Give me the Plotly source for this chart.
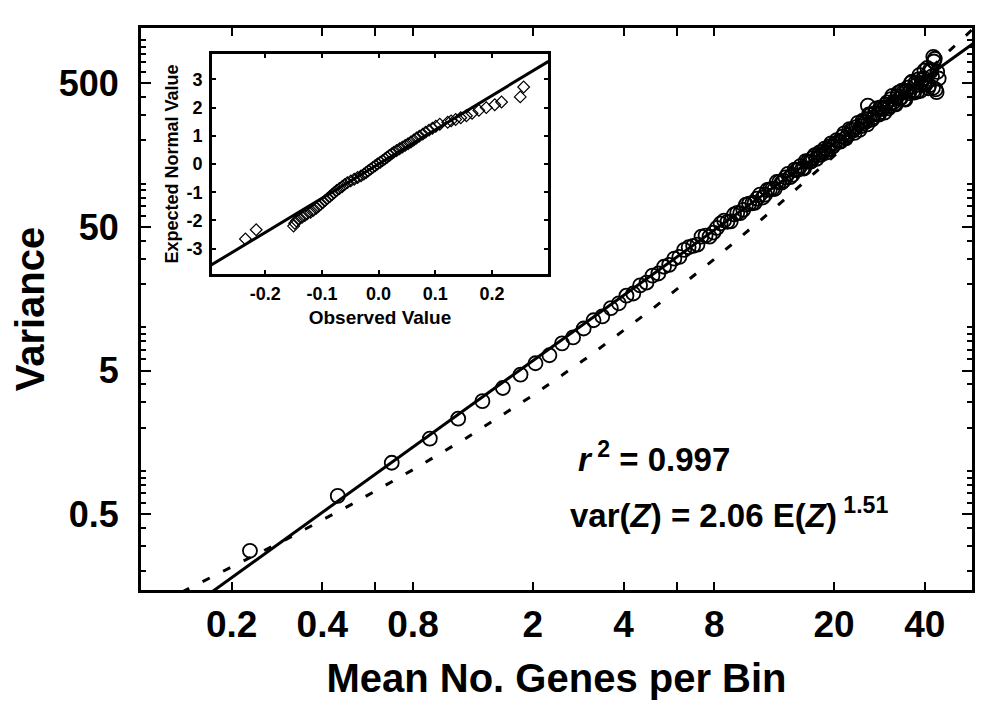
import plotly.graph_objects as go

# main panel: bin means and variances
mean_genes = [
    0.23, 0.45, 0.68, 0.91, 1.13, 1.36, 1.59, 1.82, 2.04, 2.27, 2.50, 2.72, 2.95, 3.18,
    3.40, 3.63, 3.86, 4.09, 4.31, 4.54, 4.77, 4.99, 5.22, 5.45, 5.67, 5.90, 6.13,
    6.58, 7.04, 7.49, 7.95, 8.40, 8.85, 9.31, 9.76, 10.2, 10.7, 11.1, 11.6, 12.0, 12.5,
    12.9, 13.4, 13.8, 14.3, 14.8, 15.2, 15.7, 16.1, 16.6, 17.0, 17.5, 17.9, 18.4, 18.8,
    19.3, 19.8, 20.4, 21.0, 21.6, 22.2, 22.8, 23.4, 24.0, 24.6, 25.2, 25.8, 26.4, 27.0,
    27.6, 28.2, 28.8, 29.4, 30.0, 30.6, 31.2, 31.8, 32.4, 33.0, 33.6, 34.2, 34.8, 35.4,
    36.0, 36.6, 37.2, 37.8, 38.4, 39.0, 39.6, 40.2, 40.8, 41.4, 42.0, 42.6, 43.2, 43.8,
    6.36, 6.81, 7.26, 7.72, 8.17, 8.63, 9.08, 9.54, 9.99, 10.45, 10.9, 11.35, 11.8,
    12.25, 12.7, 13.15, 13.6, 14.05, 14.55, 15.0, 15.45, 15.9, 16.35, 16.8, 17.25,
    17.7, 18.15, 18.6, 19.05, 19.55, 20.1,
    20.7, 21.3, 21.9, 22.5, 23.1, 23.7, 24.3, 24.9, 25.5, 26.1, 26.7, 27.3, 27.9,
    28.5, 29.1, 29.7, 30.3, 30.9, 31.5, 32.1, 32.7, 33.3, 33.9, 34.5, 35.1, 35.7,
    36.3, 36.9, 37.5, 38.1, 38.7, 39.3, 39.9, 40.5, 41.1, 41.7, 42.3, 42.9, 43.5,
    25.9, 42.7, 44.5, 44.0,
]
variance = [
    0.278, 0.67, 1.14, 1.68, 2.31, 3.06, 3.78, 4.68, 5.62, 6.39, 7.73, 8.50, 9.81, 11.2,
    11.9, 13.6, 14.7, 16.6, 17.2, 19.6, 20.5, 22.9, 23.7, 26.4, 27.2, 30.1, 30.9,
    36.1, 37.7, 43.5, 45.7, 52.8, 54.3, 61.0, 62.3, 71.4, 73.1, 78.8, 80.1, 90.4, 92.4,
    102.8, 101.6, 110.6, 111.0, 125.3, 125.4, 127.8, 143.7, 141.9, 151.5, 149.0, 165.4, 167.4, 164.3,
    181.7, 181.4, 201, 196, 224, 218, 236, 226, 265, 252, 272, 259, 300, 290,
    334, 303, 336, 312, 368, 346, 409, 359, 405, 392, 445, 388, 443, 427,
    503, 440, 504, 437, 570, 500, 543, 490, 641, 484, 611, 464, 741, 434,
    34.6, 36.9, 42.8, 42.8, 49.2, 55.4, 54.7, 62.6, 65.8, 72.6, 73.6, 83.9, 83.9,
    91.4, 91.8, 102.8, 104.9, 117.0, 115.1, 124.1, 132.4, 127.6, 142.8, 143.0, 157.9,
    157.9, 159.1, 175.2, 172.9, 190.7, 189.4,
    196, 213, 207, 240, 234, 248, 237, 275, 269, 304, 279, 310, 304,
    340, 331, 355, 334, 388, 369, 357, 431, 394, 430, 385, 466, 442,
    514, 431, 486, 533, 443, 527, 614, 513, 462, 622, 559, 709, 454,
    350, 764, 540, 600,
]

# fitted power law var = 2.06 E^1.51 (end points)
fit_x = [0.15, 60]
fit_y = [0.117, 997]

# dashed reference curve
dash_x = [0.1, 0.15, 0.2, 0.3, 0.5, 0.8, 1.2, 2, 3, 5, 8, 12, 20, 30, 45, 60]
dash_y = [0.103, 0.158, 0.214, 0.33, 0.585, 1.02, 1.69, 3.36, 6.06, 13.5, 29.8, 61, 156, 336, 734, 1284]

x_ticks = [0.2, 0.4, 0.8, 2, 4, 8, 20, 40]
x_ticktext = ["0.2", "0.4", "0.8", "2", "4", "8", "20", "40"]
x_minor = [0.6, 6]
y_ticks = [0.5, 5, 50, 500]
y_ticktext = ["0.5", "5", "50", "500"]
y_minor = [0.2, 0.3, 0.4, 0.6, 0.7, 0.8, 0.9, 1, 2, 3, 4, 6, 7, 8, 9, 10,
           20, 30, 40, 60, 70, 80, 90, 100, 200, 300, 400, 600, 700, 800, 900, 1000]

# inset: normal probability plot of residuals
obs_value = [
    -0.235, -0.216, -0.150, -0.148, -0.145, -0.140, -0.135, -0.130, -0.126, -0.120,
    -0.115, -0.110, -0.106, -0.102, -0.098, -0.094, -0.090, -0.086, -0.082, -0.078,
    -0.074, -0.069, -0.064, -0.060, -0.055, -0.049, -0.043, -0.037, -0.031, -0.026,
    -0.022, -0.018, -0.014, -0.010, -0.006, -0.002, 0.003, 0.007, 0.011, 0.015,
    0.019, 0.023, 0.027, 0.032, 0.037, 0.042, 0.047, 0.052, 0.057, 0.062,
    0.067, 0.072, 0.078, 0.083, 0.089, 0.095, 0.101, 0.108, 0.122, 0.128,
    0.136, 0.145, 0.155, 0.165, 0.177, 0.190, 0.205, 0.217, 0.250, 0.256,
]
exp_normal = [
    -2.66, -2.33, -2.20, -2.10, -2.02, -1.95, -1.89, -1.83, -1.77, -1.71,
    -1.64, -1.57, -1.50, -1.43, -1.36, -1.29, -1.22, -1.15, -1.08, -1.01,
    -0.94, -0.87, -0.80, -0.73, -0.66, -0.60, -0.54, -0.48, -0.42, -0.36,
    -0.30, -0.24, -0.18, -0.12, -0.06, 0.00, 0.06, 0.12, 0.18, 0.24,
    0.30, 0.36, 0.42, 0.48, 0.54, 0.60, 0.66, 0.72, 0.78, 0.85,
    0.92, 0.99, 1.06, 1.13, 1.20, 1.27, 1.34, 1.41, 1.48, 1.53,
    1.58, 1.64, 1.71, 1.80, 1.90, 2.00, 2.10, 2.20, 2.38, 2.73,
]
qq_line_x = [-0.3, 0.3]
qq_line_y = [-3.64, 3.64]
inset_xticks = [-0.2, -0.1, 0.0, 0.1, 0.2]
inset_xtext = ["-0.2", "-0.1", "0.0", "0.1", "0.2"]
inset_yticks = [-3, -2, -1, 0, 1, 2, 3]
inset_ytext = ["-3", "-2", "-1", "0", "1", "2", "3"]

FONT = "Arial, Liberation Sans, Helvetica, sans-serif"

fig = go.Figure()
fig.add_trace(go.Scatter(x=dash_x, y=dash_y, mode="lines",
                         line=dict(color="black", width=3, dash="8px,15px")))
fig.add_trace(go.Scatter(x=fit_x, y=fit_y, mode="lines",
                         line=dict(color="black", width=3)))
fig.add_trace(go.Scatter(x=mean_genes, y=variance, mode="markers",
                         marker=dict(symbol="circle-open", size=14, color="black",
                                     line=dict(width=1.8, color="black"))))

fig.add_trace(go.Scatter(x=qq_line_x, y=qq_line_y, mode="lines", xaxis="x2", yaxis="y2",
                         line=dict(color="black", width=3)))
fig.add_trace(go.Scatter(x=obs_value, y=exp_normal, mode="markers", xaxis="x2", yaxis="y2",
                         marker=dict(symbol="diamond-open", size=9, color="black",
                                     line=dict(width=1.2, color="black"))))

# page body has an 8px margin, so the figure is a bit smaller and margins are shifted
fig.update_layout(
    width=967, height=695,
    margin=dict(l=133, r=3, t=20, b=113),
    paper_bgcolor="white", plot_bgcolor="white",
    showlegend=False,
    font=dict(family=FONT, color="black", weight="bold"),
    xaxis=dict(
        type="log", range=[-1.0, 1.759], automargin=False,
        tickvals=x_ticks, ticktext=x_ticktext,
        tickfont=dict(size=37, family=FONT, weight="bold"),
        ticks="inside", ticklen=8, tickwidth=2, tickcolor="black",
        minor=dict(tickvals=x_minor, ticks="inside", ticklen=8, tickwidth=2, tickcolor="black"),
        showline=True, linewidth=3, linecolor="black", mirror="ticks",
        showgrid=False, zeroline=False, ticklabelstandoff=0,
        title=dict(text="Mean No. Genes per Bin", standoff=20,
                   font=dict(size=40, family=FONT, weight="bold")),
    ),
    yaxis=dict(
        type="log", range=[-0.829, 3.084], automargin=False,
        tickvals=y_ticks, ticktext=y_ticktext,
        tickfont=dict(size=36, family=FONT, weight="bold"),
        ticks="inside", ticklen=10, tickwidth=2, tickcolor="black",
        minor=dict(tickvals=y_minor, ticks="inside", ticklen=5, tickwidth=2, tickcolor="black"),
        showline=True, linewidth=3, linecolor="black", mirror="ticks",
        showgrid=False, zeroline=False, ticklabelstandoff=12,
        title=dict(text="Variance", standoff=14,
                   font=dict(size=40, family=FONT, weight="bold")),
    ),
    xaxis2=dict(
        domain=[0.0854, 0.4898], anchor="y2", range=[-0.294, 0.299], automargin=False,
        tickvals=inset_xticks, ticktext=inset_xtext,
        tickfont=dict(size=18, family=FONT, weight="bold"),
        ticks="inside", ticklen=4, tickwidth=1.5, tickcolor="black",
        showline=True, linewidth=2.5, linecolor="black", mirror="ticks",
        showgrid=False, zeroline=False, ticklabelstandoff=2,
        title=dict(text="Observed Value", standoff=8,
                   font=dict(size=19, family=FONT, weight="bold")),
    ),
    yaxis2=dict(
        domain=[0.5623, 0.9537], anchor="x2", range=[-3.9, 3.9], automargin=False,
        tickvals=inset_yticks, ticktext=inset_ytext,
        tickfont=dict(size=18, family=FONT, weight="bold"),
        ticks="inside", ticklen=4, tickwidth=1.5, tickcolor="black",
        showline=True, linewidth=2.5, linecolor="black", mirror="ticks",
        showgrid=False, zeroline=False, ticklabelstandoff=3,
        title=dict(text="Expected Normal Value", standoff=4,
                   font=dict(size=18, family=FONT, weight="bold")),
    ),
)

fig.add_annotation(xref="paper", yref="paper", x=0.524, y=0.237, xanchor="left", yanchor="middle",
                   text="<i>r</i><sup> 2</sup> = 0.997", showarrow=False,
                   font=dict(size=33, family=FONT, weight="bold"))
fig.add_annotation(xref="paper", yref="paper", x=0.514, y=0.137, xanchor="left", yanchor="middle",
                   text="var(<i>Z</i>) = 2.06 E(<i>Z</i>)<sup> 1.51</sup>", showarrow=False,
                   font=dict(size=33, family=FONT, weight="bold"))

fig.write_html("out.html")
